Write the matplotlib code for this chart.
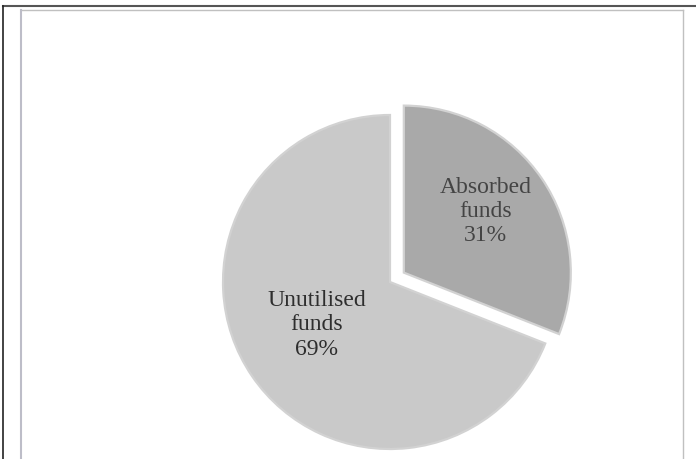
import matplotlib
matplotlib.use("Agg")
import matplotlib.pyplot as plt
from matplotlib.lines import Line2D
import numpy as np

categories = ["Absorbed\nfunds", "Unutilised\nfunds"]
values = [31, 69]
colors = ["#a9a9a9", "#c9c9c9"]

W, H = 696, 459
fig = plt.figure(figsize=(W / 100, H / 100), dpi=100)
fig.patch.set_facecolor("white")
ax = fig.add_axes([0, 0, 1, 1])

center = (390, H - 282)
radius = 167
explode_frac = [0.1, 0.0]
wedges, _ = ax.pie(values, colors=colors, startangle=90, counterclock=False,
                   explode=[e * radius for e in explode_frac], center=center,
                   radius=radius, frame=True,
                   wedgeprops=dict(edgecolor="#d2d2d2", linewidth=1.6))
ax.set_xlim(0, W)
ax.set_ylim(0, H)
ax.set_aspect("equal")
ax.axis("off")

dists = [0.61, 0.51]
angle_adj = [2.5, -4]
txt_colors = ["#444444", "#2e2e2e"]
for w, cat, v, d, da, tc in zip(wedges, categories, values, dists, angle_adj, txt_colors):
    th = np.deg2rad((w.theta1 + w.theta2) / 2 + da)
    cx, cy = w.center
    ax.text(cx + d * radius * np.cos(th), cy + d * radius * np.sin(th),
            f"{cat}\n{v}%", ha="center", va="center", fontsize=17,
            family="Liberation Serif", color=tc, linespacing=1.2)

# frame lines (figure pixel coordinates)
def fl(x0, y0, x1, y1, c, lw):
    fig.add_artist(Line2D([x0 / W, x1 / W], [1 - y0 / H, 1 - y1 / H],
                          transform=fig.transFigure, color=c, lw=lw))

fl(3, 6, 696, 6, "#555555", 1.5)
fl(3, 6, 3, 459, "#222222", 1.2)
fl(21, 10, 683, 10, "#c0c0c0", 1.0)
fl(21, 10, 21, 459, "#bdbdc8", 1.5)
fl(683, 10, 683, 459, "#c0c0c0", 1.0)

fig.savefig("out.png", dpi=100, facecolor="white")
